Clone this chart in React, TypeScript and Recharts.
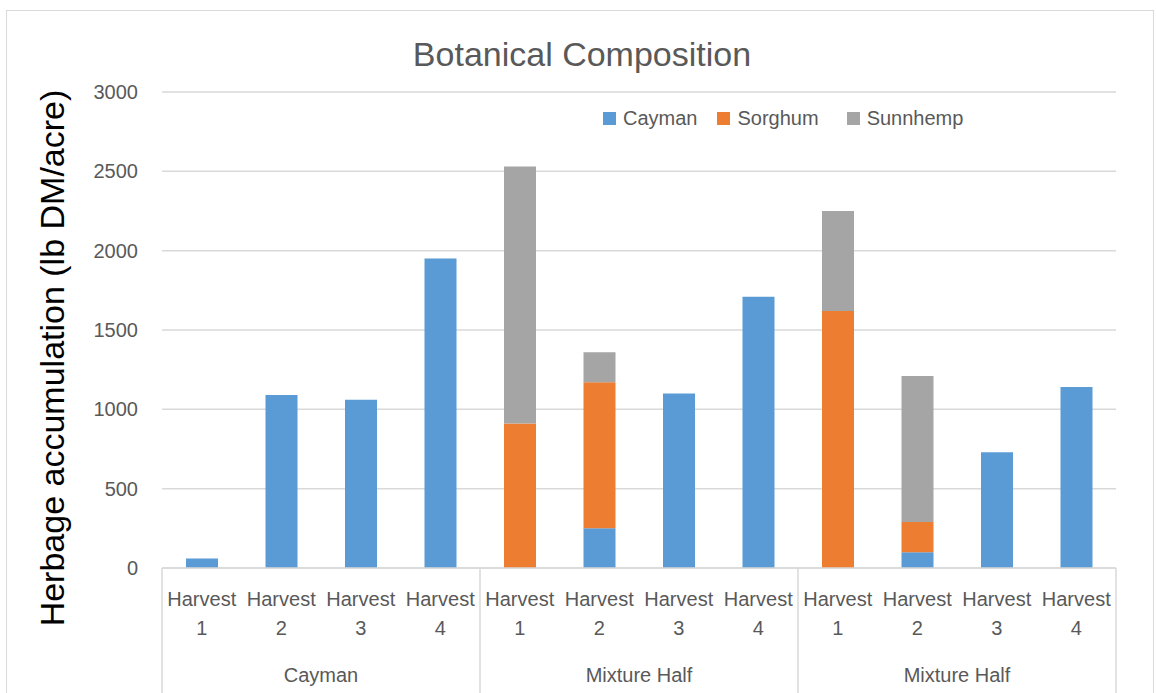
import React from "react";
import { BarChart, Bar, XAxis, YAxis, CartesianGrid } from "recharts";

const harvests = ["1", "2", "3", "4", "1", "2", "3", "4", "1", "2", "3", "4"];
const groups = ["Cayman", "Mixture Half", "Mixture Half"];
const cayman = [60, 1090, 1060, 1950, 0, 250, 1100, 1710, 0, 100, 730, 1140];
const sorghum = [0, 0, 0, 0, 910, 920, 0, 0, 1620, 190, 0, 0];
const sunnhemp = [0, 0, 0, 0, 1620, 190, 0, 0, 630, 920, 0, 0];
const yTicks = [0, 500, 1000, 1500, 2000, 2500, 3000];

const SERIES = [
  { key: "Cayman", color: "#5B9BD5", values: cayman, gap: 20 },
  { key: "Sorghum", color: "#ED7D31", values: sorghum, gap: 28 },
  { key: "Sunnhemp", color: "#A5A5A5", values: sunnhemp, gap: 0 },
];

const FONT = "'Liberation Sans', Arial, sans-serif";
const GRID = "#d9d9d9";
const TXT = "#595959";

const data = harvests.map((h, i) => {
  const row: Record<string, any> = { id: `${i}`, harvest: h, group: groups[Math.floor(i / 4)] };
  SERIES.forEach(s => (row[s.key] = s.values[i]));
  return row;
});

// two-line "Harvest n" label, plus group separators / group names under every 4th tick
function HarvestTick(props: any) {
  const { x, y, payload, index } = props;
  const i = index ?? payload.index;
  const half = payload.offset || 39.75;
  const row = data[i];
  return (
    <g>
      <text x={x} y={y + 38} textAnchor="middle" fill={TXT} fontSize={20} fontFamily={FONT}>Harvest</text>
      <text x={x} y={y + 67} textAnchor="middle" fill={TXT} fontSize={20} fontFamily={FONT}>{row.harvest}</text>
      {i % 4 === 0 && (
        <>
          <line x1={x - half} x2={x - half} y1={y} y2={y + 130} stroke={GRID} strokeWidth={1.5} />
          <text x={x + half * 3} y={y + 114} textAnchor="middle" fill={TXT} fontSize={20} fontFamily={FONT}>{row.group}</text>
        </>
      )}
      {i === data.length - 1 && (
        <line x1={x + half} x2={x + half} y1={y} y2={y + 130} stroke={GRID} strokeWidth={1.5} />
      )}
    </g>
  );
}

function LegendBox() {
  return (
    <div style={{ position: "absolute", top: 107, left: 603, display: "flex", fontFamily: FONT, fontSize: 20, color: TXT }}>
      {SERIES.map(s => (
        <span key={s.key} style={{ display: "inline-flex", alignItems: "center", marginRight: s.gap }}>
          <span style={{ width: 13, height: 13, background: s.color, display: "inline-block", marginRight: 7 }} />
          {s.key}
        </span>
      ))}
    </div>
  );
}

export default function App() {
  return (
    <div style={{ position: "absolute", left: 0, top: 0, width: 1156, height: 693, overflow: "hidden", background: "#fff" }}>
      <div style={{ position: "absolute", left: 6, top: 10, width: 1146, height: 700, border: `1.5px solid ${GRID}` }} />
      <BarChart width={1156} height={693} data={data} margin={{ top: 92, right: 40, bottom: 0, left: 0 }} style={{ position: "absolute", left: 0, top: 0 }}>
        <CartesianGrid vertical={false} stroke={GRID} strokeWidth={1.5} />
        <XAxis
          dataKey="id"
          height={125}
          tickLine={false}
          tickSize={0}
          tickMargin={0}
          interval={0}
          axisLine={{ stroke: GRID, strokeWidth: 1.5 }}
          tick={<HarvestTick />}
        />
        <YAxis
          width={162}
          domain={[0, 3000]}
          ticks={yTicks}
          axisLine={false}
          tickLine={false}
          tickSize={0}
          tickMargin={24}
          tick={{ fill: TXT, fontSize: 20, fontFamily: FONT }}
        />
        {SERIES.map(s => (
          <Bar key={s.key} dataKey={s.key} stackId="a" fill={s.color} barSize={32} isAnimationActive={false} />
        ))}
      </BarChart>
      <div style={{ position: "absolute", left: 0, width: 1156, top: 35, textAlign: "center", fontFamily: FONT, fontSize: 34, color: TXT, paddingLeft: 4 }}>
        Botanical Composition
      </div>
      <div
        style={{
          position: "absolute", left: 52, top: 358, width: 600, textAlign: "center",
          transform: "translate(-50%, -50%) rotate(-90deg)", fontFamily: FONT, fontSize: 34, color: "#000", whiteSpace: "nowrap",
        }}
      >
        Herbage accumulation (lb DM/acre)
      </div>
      <LegendBox />
    </div>
  );
}
